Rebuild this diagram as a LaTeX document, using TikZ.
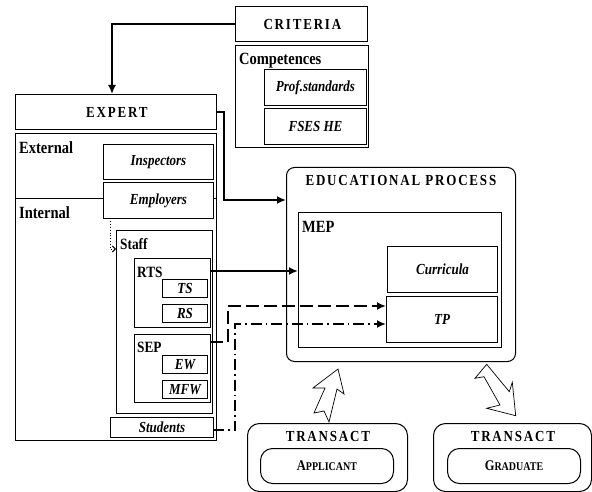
\documentclass[tikz,border=0pt]{standalone}
\usepackage{fontspec}
\usepackage{graphicx}
\setmainfont{Liberation Serif}
\newfontfamily\spacedfont[LetterSpace=14]{Liberation Serif}
\usetikzlibrary{arrows.meta,calc}
\newcommand\tall[1]{\scalebox{1}[1.18]{#1}}
\newcommand\mysc[2]{\tall{\fontsize{12.5}{14}\selectfont #1\fontsize{10}{11}\selectfont #2}}
\begin{document}
\begin{tikzpicture}[x=1pt,y=-1pt,
  box/.style={draw,line width=1pt,fill=white,inner sep=0pt,anchor=north west},
  lbl/.style={font=\bfseries\itshape\fontsize{13}{14}\selectfont},
  ttl/.style={font=\spacedfont\bfseries\fontsize{13}{15}\selectfont,inner sep=0pt},
  hd/.style={font=\bfseries\fontsize{14.5}{16}\selectfont,anchor=west,inner sep=0pt},
  sub/.style={font=\bfseries\fontsize{13.3}{15}\selectfont,anchor=west,inner sep=0pt},
  arr/.style={line width=1.8pt,-{Latex[length=9pt,width=8pt]}},
  rbox/.style={draw,line width=1pt,rounded corners=8pt,inner sep=0pt,anchor=north west,fill=white},
  hollow/.style={draw,line width=0.7pt,fill=white,line join=miter}
]
\useasboundingbox (0,0) rectangle (592,492);

% criteria
\node[box,ttl,minimum width=132,minimum height=35] (criteria) at (235,6) {\tall{CRITERIA\hspace{-0.14em}}};
\node[box,minimum width=133,minimum height=102] (comp) at (235,45) {};
\node[box,lbl,minimum width=102,minimum height=36] (prof) at (264,69) {\tall{Prof.standards}};
\node[box,lbl,minimum width=102,minimum height=36] (fses) at (264,108) {\tall{FSES HE}};
\node[hd] (compl) at (239,61) {\tall{Competences}};

% expert
\node[box,ttl,minimum width=201,minimum height=35] (expert) at (15,94) {\tall{EXPERT\hspace{-0.14em}}};
\node[box,minimum width=201,minimum height=307] (expbox) at (15,133) {};
\draw[line width=1pt] ($(expbox.north west)+(0,66)$) -- ($(expbox.north east)+(0,66)$);
\node[hd] (ext) at (19,148) {\tall{External}};
\node[hd] (int) at (19,213) {\tall{Internal}};
\node[box,lbl,minimum width=110,minimum height=35] (insp) at (103,144) {\tall{Inspectors}};
\node[box,lbl,minimum width=110,minimum height=36] (empl) at (103,182) {\tall{Employers}};
\node[box,minimum width=96,minimum height=183] (staff) at (116,230) {};
\node[sub] (staffl) at (120,244) {\tall{Staff}};
\node[box,minimum width=76,minimum height=69] (rts) at (134,258) {};
\node[sub] (rtsl) at (137,272) {\tall{RTS}};
\node[box,lbl,minimum width=45,minimum height=18] (ts) at (162,279) {\tall{TS}};
\node[box,lbl,minimum width=45,minimum height=18] (rs) at (162,304) {\tall{RS}};
\node[box,minimum width=76,minimum height=68] (sep) at (134,334) {};
\node[sub] (sepl) at (137,347) {\tall{SEP}};
\node[box,lbl,minimum width=45,minimum height=18] (ew) at (162,355) {\tall{EW}};
\node[box,lbl,minimum width=45,minimum height=18] (mfw) at (162,380) {\tall{MFW}};
\node[box,lbl,minimum width=103,minimum height=20] (stud) at (110,417) {\tall{Students}};

% educational process
\node[rbox,minimum width=229,minimum height=194] (ep) at (286,167) {};
\node[ttl] (epl) at (400,180) {\tall{EDUCATIONAL PROCESS\hspace{-0.14em}}};
\node[box,minimum width=203,minimum height=135] (mep) at (298,212) {};
\node[hd] (mepl) at (302,227) {\tall{MEP}};
\node[box,lbl,minimum width=110,minimum height=46] (curr) at (387,246) {\tall{Curricula}};
\node[box,lbl,minimum width=111,minimum height=46] (tp) at (386,296) {\tall{TP}};

% transact
\node[rbox,rounded corners=12pt,minimum width=160,minimum height=68] (tr1) at (247,423) {};
\node[ttl] (tr1l) at (327,436) {\tall{TRANSACT\hspace{-0.14em}}};
\node[rbox,rounded corners=12pt,minimum width=133,minimum height=35,font=\bfseries] (app) at (260,448) {\mysc{A}{PPLICANT}};
\node[rbox,rounded corners=12pt,minimum width=158,minimum height=68] (tr2) at (433,423) {};
\node[ttl] (tr2l) at (512,436) {\tall{TRANSACT\hspace{-0.14em}}};
\node[rbox,rounded corners=12pt,minimum width=133,minimum height=35,font=\bfseries] (grad) at (447,448) {\mysc{G}{RADUATE}};

% connectors
\coordinate (c1) at (112,94);
\draw[arr] (criteria.west) -| (c1);
\coordinate (c2) at (286,200);
\draw[arr] (expert.east) -- ++(7,0) |- (c2);
\coordinate (c3) at (298,271);
\draw[arr] (rts.east |- c3) -- (c3);
\coordinate (s4) at (210,342);
\coordinate (c4) at (386,306);
\draw[arr,dash pattern=on 13pt off 5pt] (s4) -- ++(18,0) |- (c4);
\coordinate (s5) at (213,430);
\coordinate (c5) at (386,324);
\draw[arr,dash pattern=on 11pt off 4pt on 1.5pt off 4pt] (s5) -- ++(22,0) |- (c5);
\coordinate (s6) at (110,218);
\coordinate (c6) at (116,249);
\draw[dotted,line width=0.9pt,-{Straight Barb[length=3pt,width=6pt]}] (s6) |- (c6);

% hollow arrows
\draw[hollow] (338,369) -- (344,394) -- (337,389) -- (329,422) -- (324,411) -- (314,413) -- (325,388) -- (313,388) -- cycle;
\draw[hollow] (486.7,364.3) -- (475,378.3) -- (484,376.7) -- (500,405) -- (486.7,408.3) -- (515.7,415.7) -- (512.3,382.3) -- (509.3,391.7) -- cycle;
\end{tikzpicture}
\end{document}
